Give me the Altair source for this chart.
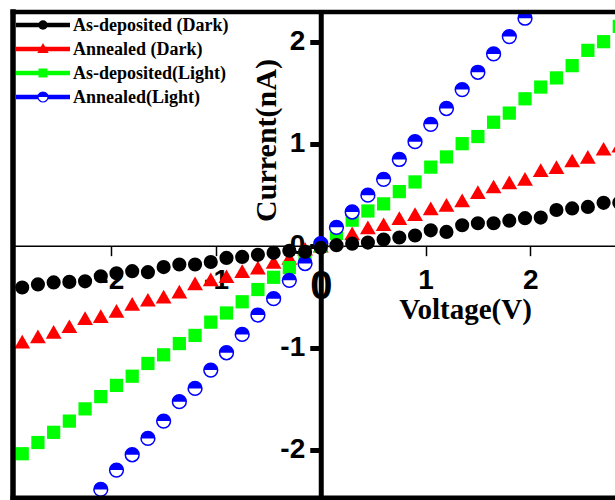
import altair as alt
import pandas as pd

# ---- data ----
voltage = [-2.85, -2.70, -2.55, -2.40, -2.25, -2.10, -1.95, -1.80, -1.65, -1.50,
           -1.35, -1.20, -1.05, -0.90, -0.75, -0.60, -0.45, -0.30, -0.15, 0.00,
           0.15, 0.30, 0.45, 0.60, 0.75, 0.90, 1.05, 1.20, 1.35, 1.50,
           1.65, 1.80, 1.95, 2.10, 2.25, 2.40, 2.55, 2.70, 2.85]

as_deposited_dark = [-0.41, -0.38, -0.36, -0.355, -0.35, -0.30, -0.27, -0.25, -0.26, -0.21,
                     -0.185, -0.185, -0.16, -0.12, -0.11, -0.09, -0.07, -0.05, -0.06, -0.02,
                     0.005, 0.02, 0.03, 0.06, 0.08, 0.10, 0.15, 0.135, 0.20, 0.22,
                     0.22, 0.245, 0.27, 0.275, 0.35, 0.365, 0.38, 0.42, 0.42]

annealed_dark = [-0.94, -0.89, -0.845, -0.79, -0.71, -0.69, -0.64, -0.57, -0.53, -0.50,
                 -0.45, -0.37, -0.33, -0.30, -0.25, -0.215, -0.16, -0.12, -0.03, 0.00,
                 0.05, 0.12, 0.18, 0.21, 0.27, 0.31, 0.365, 0.40, 0.445, 0.525,
                 0.58, 0.62, 0.655, 0.74, 0.77, 0.835, 0.87, 0.95, 0.98]

as_deposited_light = [-2.04, -1.93, -1.83, -1.72, -1.60, -1.48, -1.37, -1.28, -1.155, -1.07,
                      -0.96, -0.88, -0.75, -0.66, -0.55, -0.43, -0.31, -0.215, -0.12, 0.00,
                      0.12, 0.25, 0.34, 0.41, 0.53, 0.625, 0.77, 0.87, 1.00, 1.07,
                      1.21, 1.30, 1.44, 1.555, 1.645, 1.765, 1.915, 2.00, 2.15]

voltage_annealed_light = [-2.10, -1.95, -1.80, -1.65, -1.50, -1.35, -1.20, -1.05, -0.90, -0.75,
                          -0.60, -0.45, -0.30, -0.15, 0.00, 0.15, 0.30, 0.45, 0.60, 0.75,
                          0.90, 1.05, 1.20, 1.35, 1.50, 1.65, 1.80, 1.95]
annealed_light = [-2.39, -2.20, -2.05, -1.89, -1.72, -1.53, -1.40, -1.22, -1.05, -0.87,
                  -0.68, -0.52, -0.34, -0.175, 0.02, 0.18, 0.33, 0.495, 0.65, 0.845,
                  1.02, 1.19, 1.345, 1.53, 1.70, 1.88, 2.05, 2.23]

series_names = ["As-deposited (Dark)", "Annealed (Dark)", "As-deposited(Light)", "Annealed(Light)"]
series_colors = ["#000000", "#FF0000", "#00FF00", "#0000FF"]

x_ticks = [-2, -1, 0, 1, 2]
y_ticks = [-2, -1, 0, 1, 2]

# ---- layout ----
W, H = 602, 486
X_DOMAIN = [-2.938, 2.809]
Y_DOMAIN = [-2.474, 2.291]
zero_x_px = (0 - X_DOMAIN[0]) / (X_DOMAIN[1] - X_DOMAIN[0]) * W
zero_y_px = (Y_DOMAIN[1] - 0) / (Y_DOMAIN[1] - Y_DOMAIN[0]) * H

xs = alt.Scale(domain=X_DOMAIN, nice=False, zero=False)
ys = alt.Scale(domain=Y_DOMAIN, nice=False, zero=False)

HALF_TOP = "M-1,0A1,1,0,0,1,1,0Z"

x_axis = alt.Axis(
    values=x_ticks, labelExpr="'' + datum.value", grid=False,
    offset=-(H - zero_y_px),
    domainColor="black", domainWidth=1.5,
    tickColor="black", tickWidth=1.5, tickSize=10,
    labelFont="Liberation Sans", labelFontWeight="bold", labelColor="black",
    labelFontSize={"condition": {"test": "datum.value === 0", "value": 40}, "value": 28},
    labelPadding=11, labelFlush=False, labelOverlap=False,
    title="Voltage(V)", titleFont="Liberation Serif", titleFontWeight="bold",
    titleFontSize=29, titleColor="black", titleAlign="center", titleBaseline="middle",
    titleX=452, titleY=64,
)
y_axis = alt.Axis(
    values=y_ticks, labelExpr="'' + datum.value", grid=False,
    offset=-zero_x_px,
    domainColor="black", domainWidth=5,
    tickColor="black", tickWidth=5, tickSize=11,
    labelFont="Liberation Sans", labelFontWeight="bold", labelColor="black",
    labelFontSize=28, labelPadding=5, labelFlush=False, labelOverlap=False,
    title="Current(nA)", titleFont="Liberation Serif", titleFontWeight="bold",
    titleFontSize=30, titleColor="black", titleAlign="center", titleBaseline="middle",
    titleAngle=270, titleX=-54, titleY=128,
)

X = alt.X("V:Q", scale=xs, axis=x_axis)
Y = alt.Y("I:Q", scale=ys, axis=y_axis)

df_ad = pd.DataFrame({"V": voltage, "I": as_deposited_dark})
df_an = pd.DataFrame({"V": voltage, "I": annealed_dark})
df_al = pd.DataFrame({"V": voltage, "I": as_deposited_light})
df_nl = pd.DataFrame({"V": voltage_annealed_light, "I": annealed_light})

red = alt.Chart(df_an).mark_point(shape="triangle-up", filled=True, size=250,
                                  color=series_colors[1], opacity=1, clip=True).encode(x=X, y=Y)
green = alt.Chart(df_al).mark_point(shape="square", filled=True, size=175,
                                    color=series_colors[2], opacity=1, clip=True).encode(x=X, y=Y)
blue_ring = alt.Chart(df_nl).mark_point(shape="circle", filled=True, fill="white",
                                        stroke=series_colors[3], strokeWidth=1.5, size=190,
                                        opacity=1, clip=True).encode(x=X, y=Y)
blue_half = alt.Chart(df_nl).mark_point(shape=HALF_TOP, filled=True, size=190,
                                        color=series_colors[3], opacity=1, clip=True).encode(x=X, y=Y)
black = alt.Chart(df_ad).mark_point(shape="circle", filled=True, size=200,
                                    color=series_colors[0], opacity=1, clip=True).encode(x=X, y=Y)

one = pd.DataFrame({"k": [0]})

frame = [
    alt.Chart(one).mark_rule(color="black", strokeWidth=4.5, strokeCap="square").encode(
        x=alt.value(0), x2=alt.value(W), y=alt.value(0)),
    alt.Chart(one).mark_rule(color="black", strokeWidth=5.5, strokeCap="square").encode(
        x=alt.value(0), y=alt.value(0), y2=alt.value(H)),
    alt.Chart(one).mark_rule(color="black", strokeWidth=5, strokeCap="square").encode(
        x=alt.value(0), x2=alt.value(W), y=alt.value(H)),
]

legend_layers = []
for i, (name, col) in enumerate(zip(series_names, series_colors)):
    ly = 13 + 24 * i
    legend_layers.append(alt.Chart(one).mark_rule(color=col, strokeWidth=4.5).encode(
        x=alt.value(3), x2=alt.value(57), y=alt.value(ly)))
    if i == 0:
        legend_layers.append(alt.Chart(one).mark_point(shape="circle", filled=True, size=90,
                             color=col, opacity=1).encode(x=alt.value(30), y=alt.value(ly)))
    elif i == 1:
        legend_layers.append(alt.Chart(one).mark_point(shape="triangle-up", filled=True, size=130,
                             color=col, opacity=1).encode(x=alt.value(30), y=alt.value(ly - 1)))
    elif i == 2:
        legend_layers.append(alt.Chart(one).mark_point(shape="square", filled=True, size=80,
                             color=col, opacity=1).encode(x=alt.value(30), y=alt.value(ly)))
    else:
        legend_layers.append(alt.Chart(one).mark_point(shape="circle", filled=True, fill="white",
                             stroke=col, strokeWidth=1.2, size=100, opacity=1).encode(
                             x=alt.value(30), y=alt.value(ly)))
        legend_layers.append(alt.Chart(one).mark_point(shape=HALF_TOP, filled=True, size=100,
                             color=col, opacity=1).encode(x=alt.value(30), y=alt.value(ly)))
    legend_layers.append(alt.Chart(one).mark_text(align="left", baseline="middle",
                         font="Liberation Serif", fontWeight="bold", fontSize=18,
                         color="black").encode(x=alt.value(60), y=alt.value(ly + 1),
                                               text=alt.value(name)))

chart = alt.layer(
    red, green, blue_ring, blue_half, black, *frame, *legend_layers
).properties(
    width=W, height=H,
    padding={"left": 13, "top": 12, "right": 0, "bottom": 2},
    autosize="none",
    background="white",
).configure_view(strokeWidth=0)

chart.save("out.html", embed_options={"renderer": "svg", "actions": False})
